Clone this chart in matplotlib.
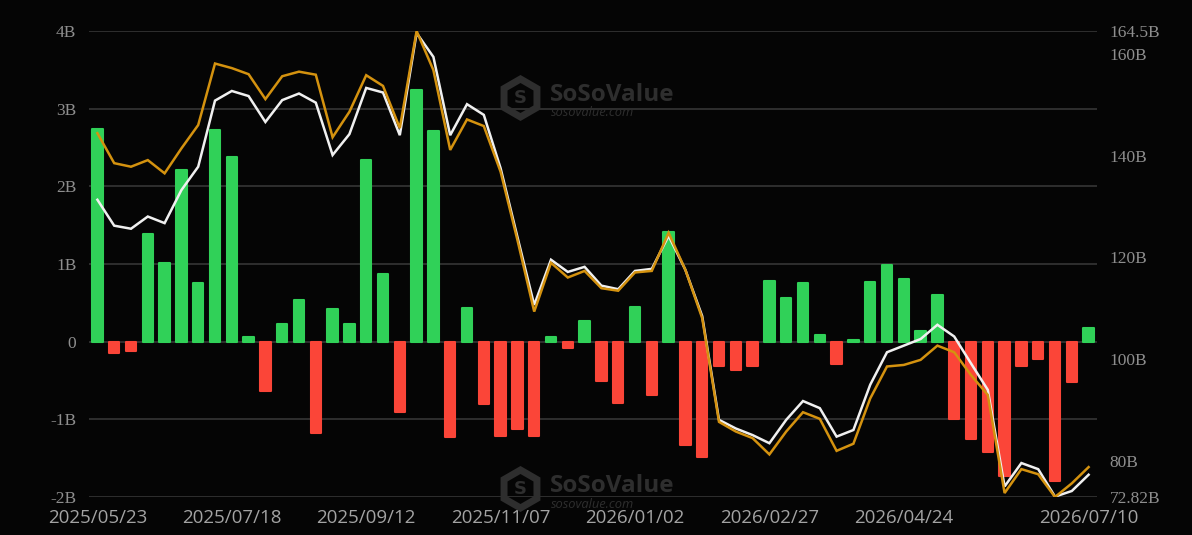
import matplotlib
matplotlib.use('Agg')
import matplotlib.pyplot as plt
import matplotlib.transforms as mtransforms
from matplotlib.patches import RegularPolygon
import numpy as np
import pandas as pd

# ---- data ----
dates = pd.date_range('2025-05-23', periods=60, freq='7D').strftime('%Y/%m/%d').tolist()

# weekly net flow (B)
net_flow = [2.74, -0.15, -0.12, 1.38, 1.01, 2.21, 0.76, 2.72, 2.38, 0.06,
            -0.64, 0.23, 0.54, -1.18, 0.42, 0.23, 2.34, 0.87, -0.90, 3.24,
            2.71, -1.23, 0.43, -0.80, -1.22, -1.13, -1.22, 0.06, -0.08, 0.27,
            -0.50, -0.79, 0.45, -0.69, 1.41, -1.33, -1.49, -0.31, -0.36, -0.31,
            0.78, 0.56, 0.76, 0.09, -0.29, 0.02, 0.77, 0.99, 0.81, 0.14,
            0.60, -1.00, -1.25, -1.42, -1.73, -0.31, -0.22, -1.79, -0.52, 0.18]

# total net assets (B) - gold line
total_assets = [144.4, 138.5, 137.8, 139.1, 136.5, 141.4, 146.0, 158.1, 157.2, 156.0,
                151.1, 155.6, 156.5, 155.9, 143.6, 148.6, 155.8, 153.7, 145.4, 164.5,
                156.8, 141.1, 147.1, 145.8, 136.8, 123.4, 109.3, 118.9, 116.0, 117.3,
                113.9, 113.4, 117.0, 117.3, 124.8, 117.5, 108.0, 87.6, 85.7, 84.4,
                81.2, 85.7, 89.5, 88.2, 81.9, 83.3, 92.2, 98.5, 98.8, 99.8,
                102.6, 101.3, 96.8, 92.9, 73.6, 78.3, 77.3, 72.82, 75.5, 78.7]

# second asset series (B) - white line
white_assets = [131.3, 126.2, 125.6, 128.0, 126.7, 133.2, 137.8, 150.8, 152.7, 151.7,
                146.6, 150.9, 152.2, 150.4, 140.1, 144.2, 153.3, 152.4, 144.0, 164.1,
                159.4, 144.0, 150.1, 148.0, 137.5, 124.0, 110.6, 119.5, 117.1, 118.1,
                114.4, 113.7, 117.3, 117.7, 124.2, 117.5, 108.4, 88.0, 86.3, 85.0,
                83.4, 88.0, 91.7, 90.3, 84.7, 86.0, 94.9, 101.3, 102.6, 103.9,
                106.7, 104.4, 99.1, 93.9, 74.9, 79.5, 78.3, 72.9, 74.0, 77.2]

left_ticks = [-2, -1, 0, 1, 2, 3, 4]
left_labels = ['-2B', '-1B', '0', '1B', '2B', '3B', '4B']
right_ticks = [72.82, 80, 100, 120, 140, 160, 164.5]
right_labels = ['72.82B', '80B', '100B', '120B', '140B', '160B', '164.5B']
xtick_idx = [0, 8, 16, 24, 32, 40, 48, 59]

# ---- style ----
BG = '#050505'
GREEN = '#30d158'
RED = '#fb4538'
GOLD = '#d4920f'
WHITE = '#f0f0f0'
GRID = '#3a3a3a'
YLAB = '#8e8e8e'
XLAB = '#a3a3a3'
WM = '#2e2e2e'

W, H = 1192, 535
fig = plt.figure(figsize=(W / 100, H / 100), dpi=100, facecolor=BG)
ax = fig.add_axes([89 / W, 1 - 497 / H, (1097 - 89) / W, (497 - 31) / H])
ax.set_facecolor(BG)

x = np.arange(len(dates))
colors = [GREEN if v >= 0 else RED for v in net_flow]
bars = ax.bar(x, net_flow, width=0.62, color=colors, edgecolor=colors,
              linewidth=1.5, zorder=2)
for b in bars:
    b.set_joinstyle('round')

ax.set_xlim(-0.5, len(dates) - 0.5)
ax.set_ylim(-2, 4)
ax.set_yticks(left_ticks)
ax.set_yticklabels(left_labels, family='Liberation Serif', fontsize=12.5, color=YLAB)
ax.set_xticks(xtick_idx)
ax.set_xticklabels([dates[i] for i in xtick_idx], family='Open Sans',
                   fontsize=13.5, color=XLAB)
ax.tick_params(axis='both', length=0)
ax.tick_params(axis='y', pad=9)
ax.tick_params(axis='x', pad=8.5)
ax.grid(axis='y', color=GRID, linewidth=1.1)
ax.set_axisbelow(True)
for s in ax.spines.values():
    s.set_visible(False)

ax2 = ax.twinx()
ax2.set_ylim(72.82, 164.5)
ax2.plot(x, white_assets, color=WHITE, linewidth=1.8, zorder=3, solid_joinstyle='miter')
ax2.plot(x, total_assets, color=GOLD, linewidth=1.8, zorder=4, solid_joinstyle='miter')
ax2.set_yticks(right_ticks)
ax2.set_yticklabels(right_labels, family='Liberation Serif', fontsize=12.5, color=YLAB)
ax2.tick_params(axis='y', length=0, pad=9)
for s in ax2.spines.values():
    s.set_visible(False)

# ---- watermarks ----
ident = mtransforms.IdentityTransform()


def watermark(cy):
    # cy: pixel y (from top) of the logo centre
    hexa = RegularPolygon((520.5, H - cy), numVertices=6, radius=19, orientation=0,
                          facecolor='none', edgecolor=WM, linewidth=5,
                          transform=ident)
    fig.add_artist(hexa)
    fig.text(520.5 / W, 1 - cy / H, 'S', color=WM, fontsize=13, fontweight='bold',
             ha='center', va='center', family='DejaVu Sans')
    fig.text(550 / W, 1 - (cy - 3) / H, 'SoSoValue', color=WM, fontsize=17.5,
             fontweight='bold', ha='left', va='center', family='Open Sans')
    fig.text(551 / W, 1 - (cy + 15) / H, 'sosovalue.com', color=WM, fontsize=9.3,
             style='italic', ha='left', va='center', family='Open Sans')


watermark(98)
watermark(489)

fig.savefig('out.png', dpi=100, facecolor=BG)
